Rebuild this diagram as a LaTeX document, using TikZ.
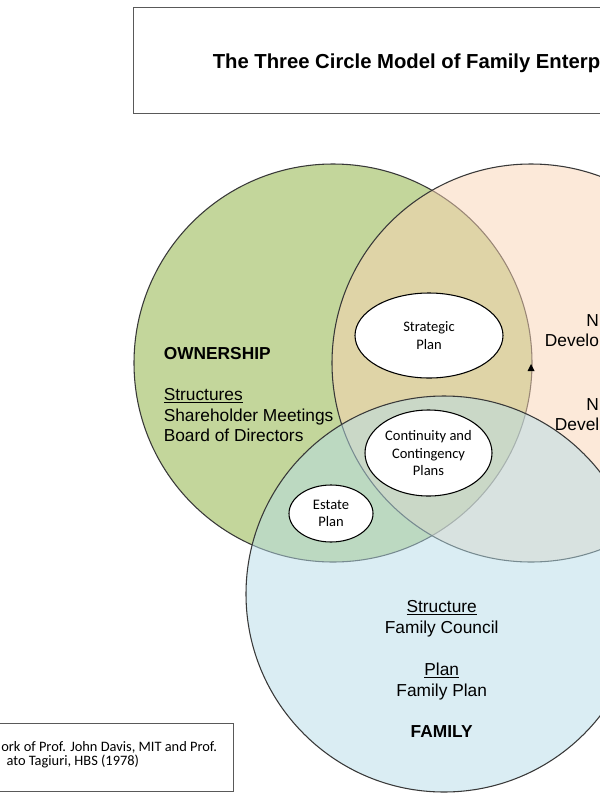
\documentclass[tikz,border=0pt]{standalone}
\usepackage{fontspec}
\setmainfont{Liberation Sans}
\newfontfamily\calfont{Carlito}
\usetikzlibrary{shapes.geometric}
\definecolor{owngreen}{HTML}{C3D69B}
\definecolor{bizpeach}{HTML}{FBD4B4}
\definecolor{famblue}{HTML}{B6DDE8}
\definecolor{edgegray}{HTML}{383838}
\definecolor{boxgray}{HTML}{595959}
\tikzset{
  circedge/.style={draw=edgegray, line width=0.8pt},
  planoval/.style={ellipse, draw=black, fill=white, line width=0.8pt, inner sep=0pt,
     align=center, font=\calfont\fontsize{10.9}{13}\selectfont},
  bodytext/.style={inner sep=0pt, font=\fontsize{13}{15.5}\selectfont},
  boldtext/.style={inner sep=0pt, font=\bfseries\fontsize{13}{15.5}\selectfont},
  frame/.style={draw=boxgray, line width=0.8pt, inner sep=0pt},
  foottext/.style={inner sep=0pt, font=\calfont\fontsize{10.8}{10.5}\selectfont}
}
\begin{document}
\begin{tikzpicture}[x=0.75pt,y=-0.75pt]
\useasboundingbox (0,0) rectangle (600,800);
\clip (0,0) rectangle (600,800);
\fill[white] (0,0) rectangle (600,800);

% title box
\node[frame, anchor=north west, minimum width=375pt, minimum height=79.5pt] (titlebox) at (133,7) {};
\node[inner sep=0pt, anchor=base west, font=\bfseries\fontsize{15.2}{18}\selectfont] (title) at (212.5,68.5) {The Three Circle Model of Family Enterp};

% circles
\coordinate (cO) at (333,363);
\coordinate (cB) at (531,363);
\coordinate (cF) at (444,594);
\fill[owngreen] (cO) circle[radius=149.25pt];
\draw[circedge] (cO) circle[radius=149.25pt];
\fill[bizpeach, fill opacity=0.5] (cB) circle[radius=149.25pt];
\draw[circedge] (cB) circle[radius=149.25pt];
\fill[famblue, fill opacity=0.5] (cF) circle[radius=148.5pt];
\draw[circedge] (cF) circle[radius=148.5pt];

% small triangle
\fill[black] (527.5,371) -- (534.5,371) -- (531,364) -- cycle;

% ovals
\node[planoval, minimum width=111pt, minimum height=63.75pt] (strategic) at (429,335.5) {Strategic\\Plan};
\node[planoval, minimum width=95.25pt, minimum height=64.5pt] (continuity) at (428.5,453) {Continuity and\\Contingency\\Plans};
\node[planoval, minimum width=63pt, minimum height=42.75pt] (estate) at (331,513.5) {Estate\\Plan};

% ownership text
\node[boldtext, anchor=base west] (own) at (163.5,359) {OWNERSHIP};
\node[bodytext, anchor=base west] (ownstruct) at (163.5,400.5) {\underline{Structures}};
\node[bodytext, anchor=base west] (ownsh) at (163.5,421) {Shareholder Meetings};
\node[bodytext, anchor=base west] (ownbd) at (163.5,441.5) {Board of Directors};

% business text (cut)
\node[bodytext, anchor=base west] (bizA) at (586,326.5) {N};
\node[bodytext, anchor=base west] (bizB) at (544.7,346.5) {Develo};
\node[bodytext, anchor=base west] (bizC) at (586,410) {N};
\node[bodytext, anchor=base west] (bizD) at (554.7,430.5) {Devel};

% family text
\node[bodytext, anchor=base] (famstruct) at (441.7,612) {\underline{Structure}};
\node[bodytext, anchor=base] (famcouncil) at (441.7,633) {Family Council};
\node[bodytext, anchor=base] (famplanh) at (441.7,675) {\underline{Plan}};
\node[bodytext, anchor=base] (famplan) at (441.7,696) {Family Plan};
\node[boldtext, anchor=base] (fam) at (441.7,737) {FAMILY};

% footer
\node[frame, anchor=north west, minimum width=180pt, minimum height=51pt] (footbox) at (-7,723) {};
\node[foottext, anchor=base west] (footA) at (1.1,751.5) {ork of Prof. John Davis, MIT and Prof.};
\node[foottext, anchor=base west] (footB) at (6.3,765.5) {ato Tagiuri, HBS (1978)};
\end{tikzpicture}
\end{document}
